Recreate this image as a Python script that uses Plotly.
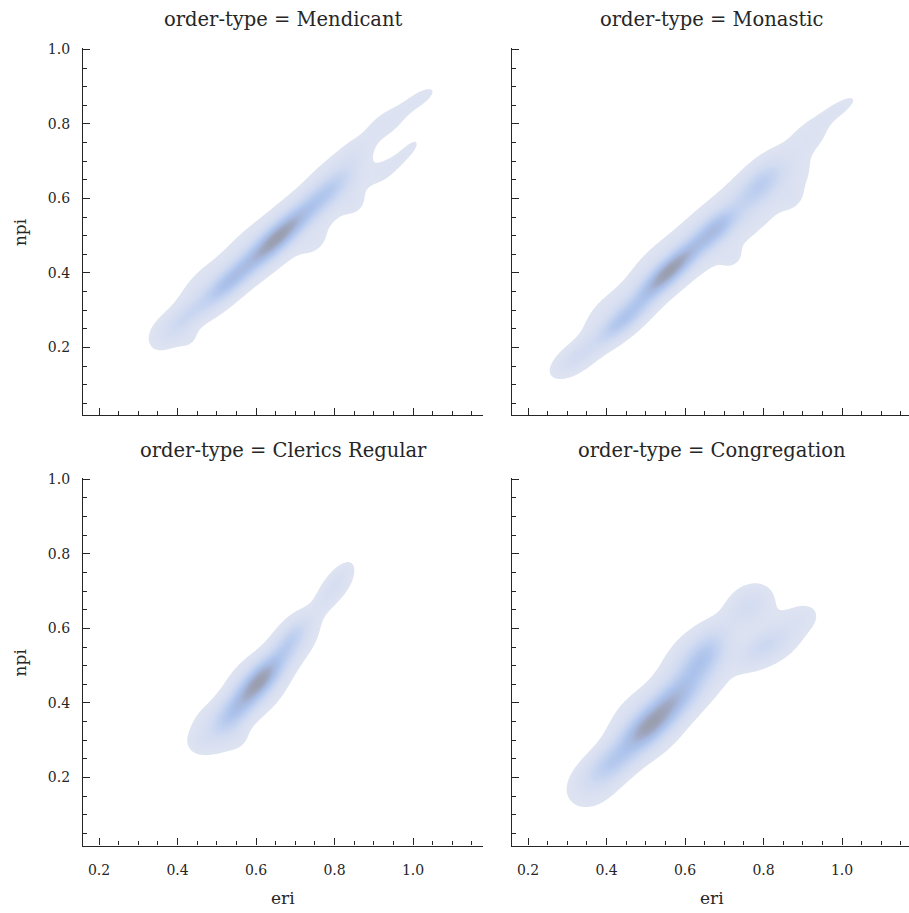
import numpy as np
import plotly.graph_objects as go

# ---------------- data ----------------
PANELS = ["Mendicant", "Monastic", "Clerics Regular", "Congregation"]
FACET = "order-type"
X_LABEL = "eri"
Y_LABEL = "npi"
X_TICKS = [0.2, 0.4, 0.6, 0.8, 1.0]
Y_TICKS = [0.2, 0.4, 0.6, 0.8, 1.0]

# density shape per panel, as kernels:
# [eri centre, npi centre, sd along ridge, sd across ridge, ridge angle (deg), weight]
# narrow "core" kernels give the coloured ridge, broad low ones the pale envelope
MENDICANT = [
    [0.655, 0.495, 0.078, 0.021, 45, 1.00],
    [0.53, 0.375, 0.060, 0.020, 45, 0.55],
    [0.42, 0.28, 0.050, 0.020, 45, 0.25],
    [0.78, 0.615, 0.060, 0.022, 45, 0.40],
    [0.85, 0.72, 0.040, 0.022, 42, 0.10],
    [0.37, 0.24, 0.040, 0.030, 45, 0.10],
    [0.48, 0.35, 0.070, 0.043, 45, 0.13],
    [0.60, 0.455, 0.070, 0.045, 45, 0.13],
    [0.71, 0.54, 0.070, 0.046, 45, 0.13],
    [0.81, 0.64, 0.060, 0.046, 45, 0.13],
    [0.93, 0.80, 0.050, 0.025, 38, 0.10],
    [1.02, 0.87, 0.045, 0.018, 35, 0.08],
    [0.985, 0.725, 0.045, 0.015, 48, 0.08],
    [0.925, 0.675, 0.035, 0.020, 45, 0.07],
    [0.425, 0.225, 0.022, 0.020, 45, 0.06],
    [0.85, 0.585, 0.022, 0.018, 45, 0.06],
    [0.75, 0.48, 0.030, 0.020, 45, 0.05],
]
MONASTIC = [
    [0.56, 0.405, 0.075, 0.020, 45, 1.00],
    [0.44, 0.27, 0.060, 0.020, 42, 0.50],
    [0.33, 0.18, 0.040, 0.018, 38, 0.15],
    [0.68, 0.52, 0.050, 0.022, 45, 0.55],
    [0.79, 0.635, 0.050, 0.025, 48, 0.40],
    [0.31, 0.16, 0.050, 0.028, 35, 0.10],
    [0.42, 0.285, 0.070, 0.040, 42, 0.13],
    [0.54, 0.405, 0.070, 0.045, 45, 0.13],
    [0.65, 0.49, 0.070, 0.048, 45, 0.13],
    [0.75, 0.575, 0.070, 0.050, 45, 0.13],
    [0.85, 0.665, 0.060, 0.048, 50, 0.12],
    [0.92, 0.77, 0.045, 0.028, 40, 0.09],
    [0.99, 0.84, 0.050, 0.016, 35, 0.09],
    [0.72, 0.44, 0.022, 0.018, 45, 0.06],
    [0.87, 0.60, 0.022, 0.018, 45, 0.06],
]
CLERICS_REGULAR = [
    [0.61, 0.46, 0.060, 0.023, 50, 1.00],
    [0.54, 0.37, 0.050, 0.025, 50, 0.45],
    [0.69, 0.57, 0.045, 0.020, 55, 0.35],
    [0.79, 0.70, 0.050, 0.016, 57, 0.12],
    [0.495, 0.33, 0.050, 0.045, 45, 0.12],
    [0.60, 0.445, 0.060, 0.050, 50, 0.13],
    [0.70, 0.57, 0.060, 0.038, 53, 0.11],
    [0.81, 0.72, 0.050, 0.026, 56, 0.09],
    [0.455, 0.295, 0.022, 0.020, 40, 0.06],
    [0.55, 0.305, 0.022, 0.020, 45, 0.06],
]
CONGREGATION = [
    [0.51, 0.34, 0.068, 0.028, 45, 1.00],
    [0.41, 0.235, 0.050, 0.028, 40, 0.45],
    [0.58, 0.42, 0.050, 0.030, 45, 0.45],
    [0.645, 0.52, 0.060, 0.030, 55, 0.55],
    [0.80, 0.55, 0.050, 0.025, 35, 0.25],
    [0.76, 0.655, 0.040, 0.030, 45, 0.15],
    [0.36, 0.175, 0.050, 0.040, 40, 0.12],
    [0.50, 0.345, 0.070, 0.058, 48, 0.14],
    [0.63, 0.495, 0.070, 0.058, 55, 0.14],
    [0.77, 0.665, 0.045, 0.038, 40, 0.09],
    [0.83, 0.57, 0.060, 0.040, 35, 0.11],
    [0.90, 0.63, 0.035, 0.027, 30, 0.08],
]
KERNELS = [MENDICANT, MONASTIC, CLERICS_REGULAR, CONGREGATION]
THRESH = 0.03  # lowest filled level, relative to the peak

# ---------------- layout geometry (pixels) ----------------
W, H = 909, 913
FONT = "DejaVu Serif"
INK = "#262626"
PX_X = 392.5   # pixels per unit on eri
PX_Y = 375.5   # pixels per unit on npi
BOXES = [  # left, right, top, bottom (px)
    (83, 483, 41.5, 411),
    (512, 909, 41.5, 411),
    (83, 483, 474.8, 845),
    (512, 909, 474.8, 845),
]
X0 = 0.2 - 16 / PX_X

COLORSCALE = [
    [0.0, "rgba(255,255,255,0)"],
    [THRESH - 0.001, "rgba(255,255,255,0)"],
    [THRESH, "#dee3f1"],
    [0.20, "#d3dcf1"],
    [0.40, "#bfd0f0"],
    [0.58, "#adc3ec"],
    [0.72, "#a8b9de"],
    [0.85, "#a0a9c4"],
    [1.0, "#999eae"],
]

gx = np.linspace(0.15, 1.19, 380)
gy = np.linspace(0.0, 1.01, 380)
GX, GY = np.meshgrid(gx, gy)


def density(kernels):
    z = np.zeros_like(GX)
    for cx, cy, sa, sb, ang, w in kernels:
        t = np.deg2rad(ang)
        dx, dy = GX - cx, GY - cy
        u = dx * np.cos(t) + dy * np.sin(t)
        v = -dx * np.sin(t) + dy * np.cos(t)
        z += w * np.exp(-0.5 * ((u / sa) ** 2 + (v / sb) ** 2))
    return z / z.max()


fig = go.Figure()
layout = dict(
    width=W, height=H, margin=dict(l=0, r=0, t=0, b=0),
    paper_bgcolor="white", plot_bgcolor="white", showlegend=False,
    font=dict(family=FONT, color=INK, size=14),
)
annotations = []

for i, (name, kern, box) in enumerate(zip(PANELS, KERNELS, BOXES)):
    n = "" if i == 0 else str(i + 1)
    l, r, t, b = box
    xr = [X0, X0 + (r - l) / PX_X]
    ytop = 1.0 + (42.7 - t) / PX_Y if i < 2 else 1.0 + (476 - t) / PX_Y
    yr = [ytop - (b - t) / PX_Y, ytop]
    z = density(kern)
    fig.add_trace(go.Contour(
        x=gx, y=gy, z=z, xaxis="x" + n, yaxis="y" + n,
        zmin=0, zmax=1, colorscale=COLORSCALE, showscale=False,
        contours=dict(start=THRESH, end=1.0, size=(1 - THRESH) / 45,
                      coloring="fill", showlines=False),
        line=dict(width=0), hoverinfo="skip",
    ))
    common = dict(
        showline=True, linecolor=INK, linewidth=1.2, showgrid=False,
        zeroline=False, ticks="inside", ticklen=7, tickwidth=1,
        tickcolor=INK, tickfont=dict(family=FONT, size=14, color=INK),
        minor=dict(ticks="inside", ticklen=4, tickwidth=1, tickcolor=INK,
                   dtick=0.05, tick0=0, showgrid=False),
    )
    layout["xaxis" + n] = dict(
        common, domain=[l / W, r / W], range=xr, anchor="y" + n,
        tickvals=X_TICKS, ticktext=[f"{v:.1f}" for v in X_TICKS],
        showticklabels=(i >= 2), ticklabelstandoff=12,
    )
    layout["yaxis" + n] = dict(
        common, domain=[1 - b / H, 1 - t / H], range=yr, anchor="x" + n,
        tickvals=Y_TICKS, ticktext=[f"{v:.1f}" for v in Y_TICKS],
        showticklabels=(i % 2 == 0), ticklabelstandoff=9,
    )
    cx = (l + (l + 400)) / 2
    ty = 13 if i < 2 else 446.5
    annotations.append(dict(
        text=f"{FACET} = {name}", x=cx / W, y=1 - ty / H,
        xref="paper", yref="paper", xanchor="center", yanchor="middle",
        showarrow=False, font=dict(family=FONT, size=19.5, color=INK),
    ))

for yc in [(42.7 + 411) / 2, (476 + 845) / 2]:
    annotations.append(dict(
        text=Y_LABEL, x=20 / W, y=1 - yc / H, xref="paper", yref="paper",
        xanchor="center", yanchor="middle", textangle=-90, showarrow=False,
        font=dict(family=FONT, size=17, color=INK),
    ))
for xc in [283, 712]:
    annotations.append(dict(
        text=X_LABEL, x=xc / W, y=1 - 898 / H, xref="paper", yref="paper",
        xanchor="center", yanchor="middle", showarrow=False,
        font=dict(family=FONT, size=17, color=INK),
    ))

layout["annotations"] = annotations
fig.update_layout(**layout)
fig.write_html(
    "out.html",
    config={"displayModeBar": False},
    post_script="document.body.style.margin='0';"
                "document.body.style.overflow='hidden';",
)
